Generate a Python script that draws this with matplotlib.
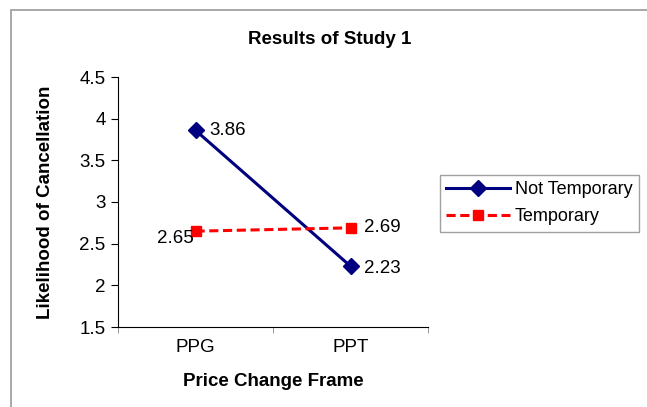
import matplotlib.pyplot as plt
import matplotlib.patches as mpatches

plt.rcParams['font.family'] = ['Liberation Sans', 'DejaVu Sans']

# data
frames = ['PPG', 'PPT']
not_temporary = [3.86, 2.23]
temporary = [2.65, 2.69]
yticks = [1.5, 2, 2.5, 3, 3.5, 4, 4.5]

fs = 13.5
fig = plt.figure(figsize=(6.47, 4.07), dpi=100)
# outer chart border (only top/left visible in the crop)
fig.patches.append(mpatches.Rectangle((11/647, -0.1), 1.2, 1 - 10/407 + 0.1,
                                      transform=fig.transFigure, fill=False,
                                      ec='#999999', lw=1.2, zorder=0))

ax = fig.add_axes([118/647, 1 - 327/407, 310/647, 250/407])
x = range(len(frames))
ax.plot(x, not_temporary, color='#000080', lw=2.2, marker='D', ms=8, label='Not Temporary')
ax.plot(x, temporary, color='#ff0000', lw=2.2, ls=(0, (3, 1.5)), marker='s', ms=7, label='Temporary')

# value labels
ax.annotate('%.2f' % not_temporary[0], (0, not_temporary[0]), xytext=(10, 0),
            textcoords='offset points', va='center', ha='left', fontsize=fs)
ax.annotate('%.2f' % temporary[0], (0, temporary[0]), xytext=(-1, -5),
            textcoords='offset points', va='center', ha='right', fontsize=fs)
ax.annotate('%.2f' % temporary[1], (1, temporary[1]), xytext=(10, 0),
            textcoords='offset points', va='center', ha='left', fontsize=fs)
ax.annotate('%.2f' % not_temporary[1], (1, not_temporary[1]), xytext=(10, -2),
            textcoords='offset points', va='center', ha='left', fontsize=fs)

ax.set_xlim(-0.5, 1.5)
ax.set_ylim(1.5, 4.5)
ax.set_yticks(yticks)
ax.set_yticklabels(['%g' % t for t in yticks], fontsize=fs)
ax.set_xticks(list(x))
ax.set_xticklabels(frames, fontsize=fs)
ax.tick_params(axis='x', length=0, pad=9)
ax.set_xticks([-0.5, 0.5, 1.5], minor=True)
ax.tick_params(axis='x', which='minor', length=4, color='#888888')
ax.tick_params(axis='y', length=5, pad=4)
ax.spines['top'].set_visible(False)
ax.spines['right'].set_visible(False)

ax.set_xlabel('Price Change Frame', fontsize=fs, fontweight='bold', labelpad=12)
ax.set_ylabel('Likelihood of Cancellation', fontsize=fs, fontweight='bold', labelpad=18)
fig.text(330/647, 1 - 40/407, 'Results of Study 1', ha='center', va='center',
         fontsize=fs, fontweight='bold')

leg = fig.legend(loc='upper left', bbox_to_anchor=(440/647, 1 - 175/407), fontsize=13,
                 frameon=True, fancybox=False, edgecolor='#888888', handlelength=3.5,
                 borderpad=0.35, labelspacing=0.55, handletextpad=0.3, borderaxespad=0)
leg.get_frame().set_linewidth(1)

fig.savefig('out.png', dpi=100)
